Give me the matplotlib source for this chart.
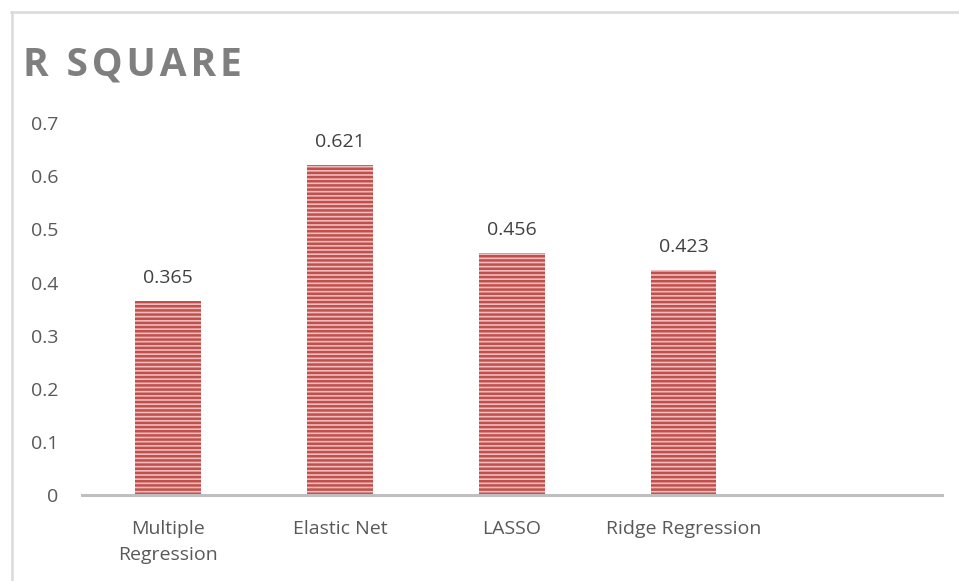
import matplotlib
matplotlib.use("Agg")
import matplotlib.pyplot as plt
from matplotlib.lines import Line2D

plt.rcParams['font.family'] = ['Open Sans', 'DejaVu Sans']
plt.rcParams['hatch.linewidth'] = 1.8

categories = ["Multiple\nRegression", "Elastic Net", "LASSO", "Ridge Regression", ""]
r_square = [0.365, 0.621, 0.456, 0.423, None]
labels = ["0.365", "0.621", "0.456", "0.423"]
yticks = [0, 0.1, 0.2, 0.3, 0.4, 0.5, 0.6, 0.7]
title = "R SQUARE"

text_color = "#595959"
bar_red = "#C0504D"

fig = plt.figure(figsize=(9.59, 5.81), dpi=100)
ax = fig.add_axes([0.0855, 0.148, 0.8965, 0.640])

x = list(range(len(categories)))
vals = [v for v in r_square if v is not None]
xs = x[:len(vals)]
ax.bar(xs, vals, width=0.38, color="#F0BDBC", edgecolor=bar_red,
       hatch="----", linewidth=0)

for xi, v, lab in zip(xs, vals, labels):
    ax.annotate(lab, (xi, v), xytext=(0, 10), textcoords="offset points",
                ha="center", va="bottom", fontsize=14, color="#404040")

ax.set_xlim(-0.5, len(categories) - 0.5)
ax.set_ylim(0, 0.7)
ax.set_yticks(yticks)
ax.set_yticklabels([("%g" % t) for t in yticks])
ax.set_xticks(x)
ax.set_xticklabels(categories, linespacing=1.6)
ax.tick_params(axis="both", length=0, labelsize=14, labelcolor=text_color)
ax.tick_params(axis="y", pad=17)
ax.tick_params(axis="x", pad=18)
for s in ["top", "right", "left"]:
    ax.spines[s].set_visible(False)
ax.spines["bottom"].set_color("#BFBFBF")
ax.spines["bottom"].set_linewidth(2.2)

# letter-spaced title
fig.text(0.024, 0.888, "\u200a".join(title), fontsize=28, fontweight="bold",
         color="#7F7F7F", ha="left", va="center")

# chart frame
fig.add_artist(Line2D([0.0115, 1.0], [1 - 11.5 / 581] * 2, color="#D9D9D9", lw=1.8,
                      transform=fig.transFigure))
fig.add_artist(Line2D([11.5 / 959] * 2, [0, 1 - 11.5 / 581], color="#D9D9D9", lw=1.8,
                      transform=fig.transFigure))

fig.savefig("out.png", dpi=100)
